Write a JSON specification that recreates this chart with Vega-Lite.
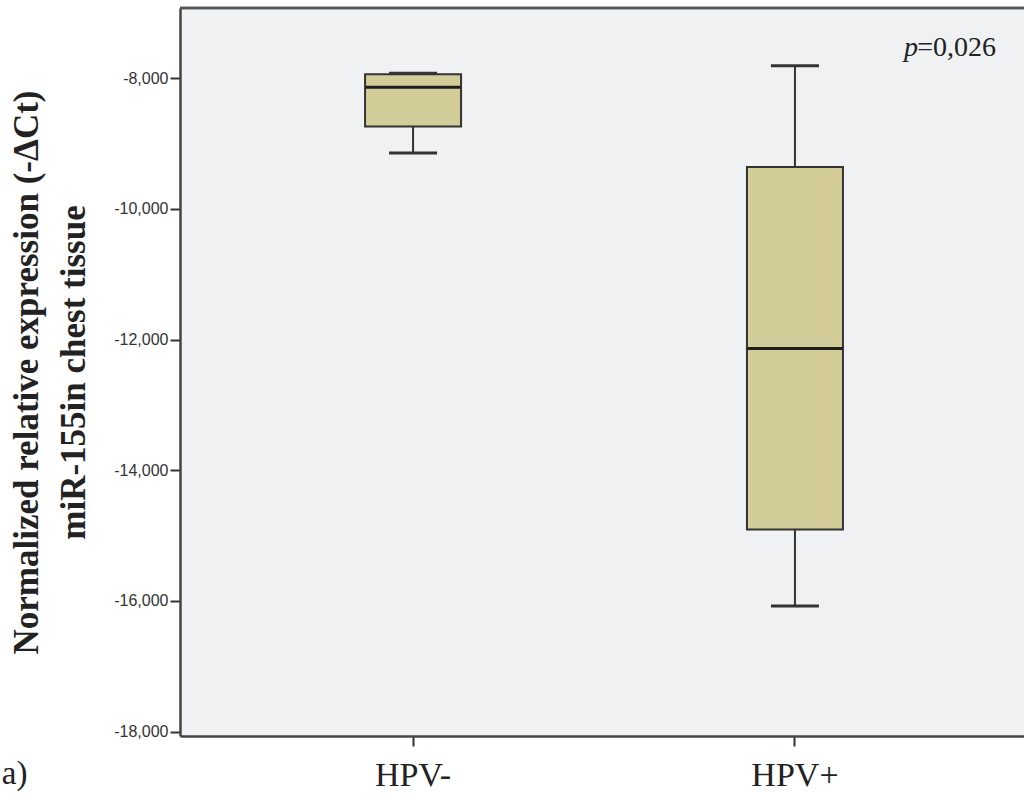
{
  "$schema": "https://vega.github.io/schema/vega-lite/v6.json",
  "autosize": "none",
  "width": 844,
  "height": 728,
  "padding": {"left": 180, "top": 8, "right": 0, "bottom": 64},
  "background": "#ffffff",
  "config": {
    "locale": {"number": {"decimal": ".", "thousands": ",", "grouping": [3], "currency": ["$", ""], "minus": "-"}},
    "view": {"fill": "#f0f1f3", "stroke": null}
  },
  "title": {
    "text": "a)",
    "orient": "bottom",
    "anchor": "start",
    "frame": "bounds",
    "font": "Liberation Serif",
    "fontSize": 33,
    "fontWeight": "normal",
    "color": "#222222",
    "offset": -34,
    "dx": -8
  },
  "data": {
    "values": [
      {"group": "HPV-", "min": -9144, "q1": -8739, "median": -8138, "q3": -7940, "max": -7925},
      {"group": "HPV+", "min": -16078, "q1": -14905, "median": -12138, "q3": -9361, "max": -7810}
    ]
  },
  "encoding": {
    "x": {
      "field": "group",
      "type": "nominal",
      "sort": ["HPV-", "HPV+"],
      "scale": {"type": "band", "domain": ["HPV-", "HPV+"], "paddingInner": 0, "paddingOuter": 0.105, "align": 0.525},
      "axis": {
        "title": null,
        "labelAngle": 0,
        "labelFont": "Liberation Serif",
        "labelFontSize": 34,
        "labelColor": "#222222",
        "labelPadding": 12,
        "tickSize": 10,
        "tickWidth": 2,
        "tickColor": "#333333",
        "domainColor": "#444444",
        "domainWidth": 2.5,
        "grid": false
      }
    }
  },
  "layer": [
    {
      "mark": {"type": "rule", "stroke": "#333333", "strokeWidth": 2},
      "encoding": {
        "y": {
          "field": "min",
          "type": "quantitative",
          "scale": {"domain": [-18066, -6927], "nice": false, "zero": false},
          "axis": {
            "values": [-18000, -16000, -14000, -12000, -10000, -8000],
            "format": ",.0f",
            "labelFont": "Liberation Sans",
            "labelFontSize": 16,
            "labelColor": "#333333",
            "labelPadding": 2,
            "tickSize": 10,
            "tickWidth": 2,
            "tickColor": "#333333",
            "domainColor": "#444444",
            "domainWidth": 2.5,
            "grid": false,
            "title": ["Normalized relative expression (-ΔCt)", "miR-155in chest tissue"],
            "titleFont": "Liberation Serif",
            "titleFontWeight": "bold",
            "titleFontSize": 35,
            "titleColor": "#222222",
            "titleLineHeight": 47,
            "titlePadding": 22
          }
        },
        "y2": {"field": "max"}
      }
    },
    {
      "mark": {"type": "bar", "width": 96, "fill": "#d2cd98", "stroke": "#333333", "strokeWidth": 2},
      "encoding": {
        "y": {"field": "q1", "type": "quantitative"},
        "y2": {"field": "q3"}
      }
    },
    {
      "mark": {"type": "tick", "size": 95, "thickness": 3, "color": "#1e1e1e", "opacity": 1},
      "encoding": {"y": {"field": "median", "type": "quantitative"}}
    },
    {
      "mark": {"type": "tick", "size": 48, "thickness": 3, "color": "#333333", "opacity": 1},
      "encoding": {"y": {"field": "min", "type": "quantitative"}}
    },
    {
      "mark": {"type": "tick", "size": 48, "thickness": 3, "color": "#333333", "opacity": 1},
      "encoding": {"y": {"field": "max", "type": "quantitative"}}
    },
    {
      "mark": {"type": "rule", "stroke": "#555555", "strokeWidth": 2.5},
      "encoding": {"y": {"datum": -6927}, "x": null}
    },
    {
      "data": {"values": [{"group": "HPV+", "label": "=0,026", "yv": -7540}]},
      "mark": {"type": "text", "align": "right", "baseline": "middle", "dx": 201, "font": "Liberation Serif", "fontSize": 28, "color": "#222222"},
      "encoding": {
        "y": {"field": "yv", "type": "quantitative"},
        "text": {"field": "label"}
      }
    },
    {
      "data": {"values": [{"group": "HPV+", "label": "p", "yv": -7540}]},
      "mark": {"type": "text", "align": "right", "baseline": "middle", "dx": 123, "font": "Liberation Serif", "fontSize": 28, "fontStyle": "italic", "color": "#222222"},
      "encoding": {
        "y": {"field": "yv", "type": "quantitative"},
        "text": {"field": "label"}
      }
    }
  ]
}
